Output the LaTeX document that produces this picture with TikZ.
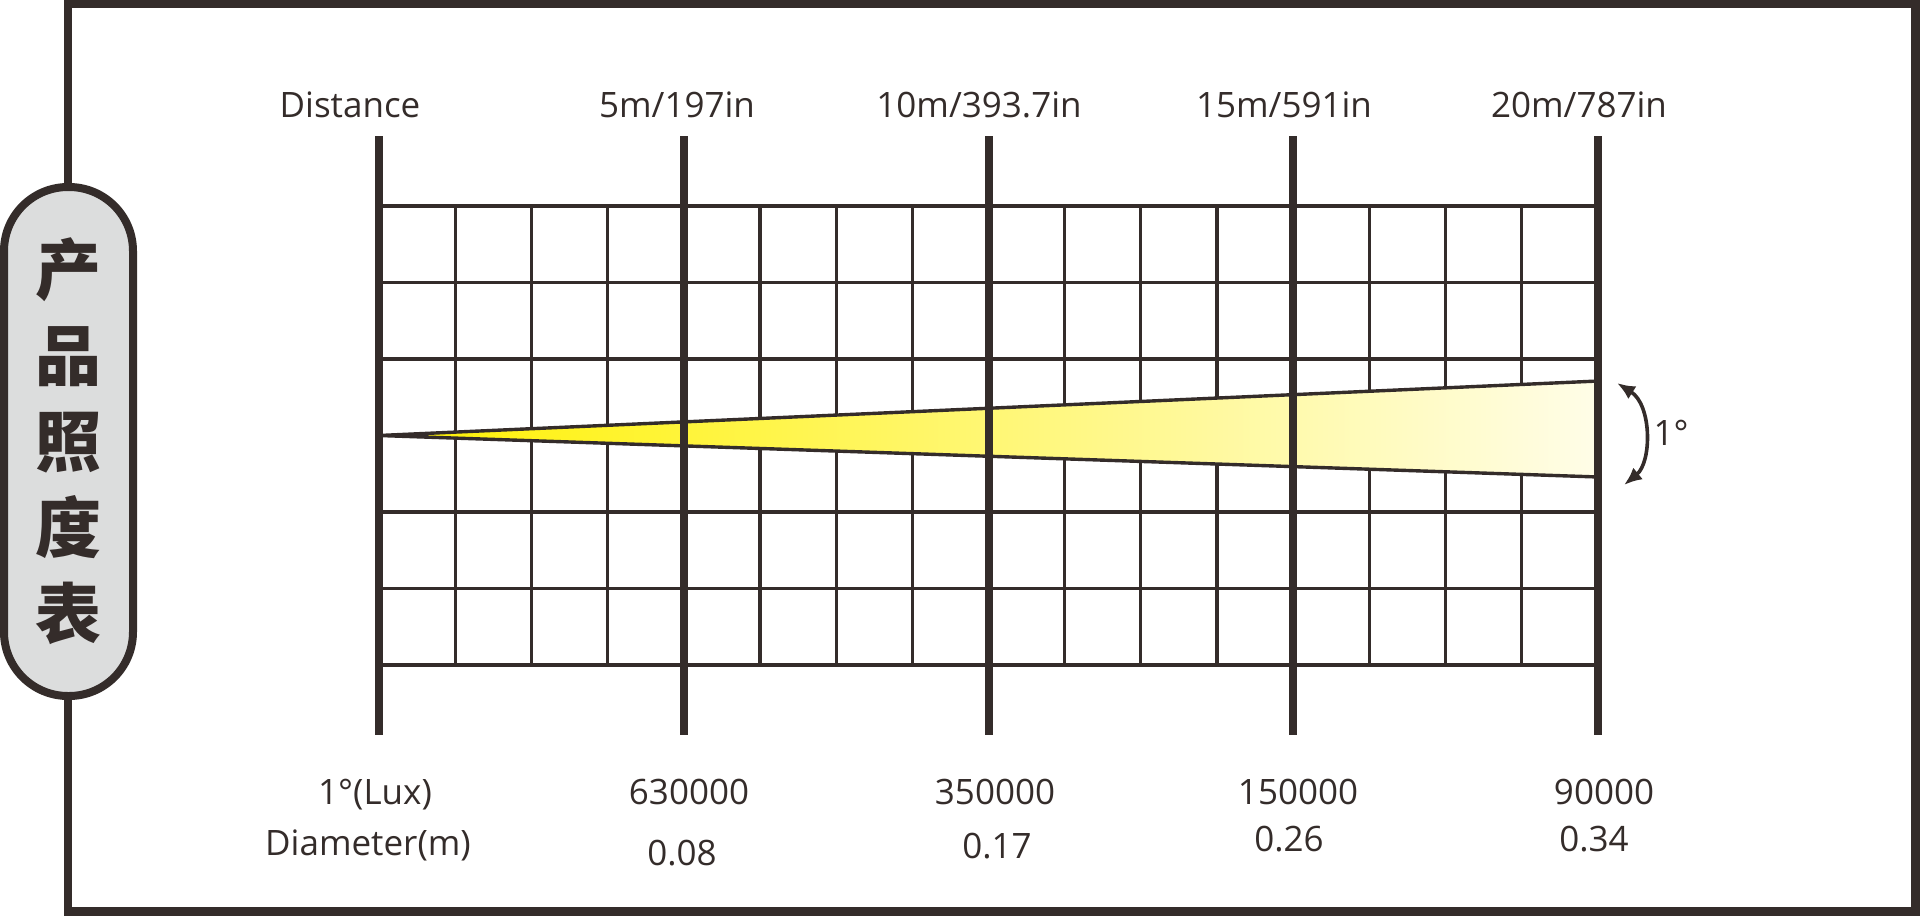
\documentclass[tikz,border=0pt]{standalone}
\usepackage{fontspec}
\setmainfont{Open Sans}
\newfontfamily\cjk{Noto Sans CJK SC}
\usetikzlibrary{arrows.meta,positioning}
\definecolor{ink}{RGB}{52,44,42}
\definecolor{pillgray}{RGB}{220,221,221}
\definecolor{beamyellow}{RGB}{255,241,0}
\definecolor{beamcream}{RGB}{255,253,232}

\begin{document}
\begin{tikzpicture}[x=0.5pt,y=-0.5pt,>=Latex,
  major/.style={ink,line width=4pt},
  minor/.style={ink,line width=1.6pt},
  lbl/.style={font=\fontsize{17.5}{21}\selectfont,text=ink,inner sep=0pt,anchor=base}]
\useasboundingbox (0,0) rectangle (1920,916);
\draw[ink,line width=4.25pt] (68,4) rectangle (1915.5,911.5);
\node[draw=ink,fill=pillgray,line width=4pt,rounded corners=32pt,minimum width=64.5pt,minimum height=254.5pt,inner sep=0pt,align=center,text=ink,font=\cjk\bfseries\fontsize{33}{43}\selectfont] (title) at (68.5,441.5) {产\\品\\照\\度\\表};

\foreach \k in {0,...,6}
  \draw[minor] (379,{206+76.5*\k}) -- (1598.5,{206+76.5*\k});
\foreach \j in {0,...,16}
  \draw[minor] ({379+76.1875*\j},206) -- ({379+76.1875*\j},665);

\coordinate (apex) at (379,435.5);
\coordinate (beamtop) at (1598.5,381);
\coordinate (beambot) at (1598.5,477);
\shade[left color=beamyellow,right color=beamcream] (apex) -- (beamtop) -- (beambot) -- cycle;
\draw[ink,line width=1.7pt,line join=round] (beamtop) -- (apex) -- (beambot);

\foreach \i in {0,...,4}
  \draw[major] ({379+304.75*\i},136) -- ({379+304.75*\i},735);

\node[lbl] (dist) at (350,117.5) {Distance};
\node[lbl] (d5) at (677,117.5) {5m/197in};
\node[lbl] (d10) at (979,117.5) {10m/393.7in};
\node[lbl] (d15) at (1284,117.5) {15m/591in};
\node[lbl] (d20) at (1579,117.5) {20m/787in};

\node[lbl] (lux) at (375,804) {1°(Lux)};
\node[lbl] (lux5) at (689,804) {630000};
\node[lbl] (lux10) at (995,804) {350000};
\node[lbl] (lux15) at (1298,804) {150000};
\node[lbl] (lux20) at (1604,804) {90000};

\node[lbl] (dia) at (368,855) {Diameter(m)};
\node[lbl] (dia5) at (682,865) {0.08};
\node[lbl] (dia10) at (997,858) {0.17};
\node[lbl] (dia15) at (1289,851) {0.26};
\node[lbl] (dia20) at (1594,851) {0.34};

\coordinate (arcA) at (1617,383);
\coordinate (arcB) at (1624,485);
\draw[ink,line width=1.8pt,<->,>={Latex[length=9pt,width=7.5pt]}] (arcA) .. controls (1652,405) and (1652,462) .. (arcB);
\node[lbl,anchor=center] (deg) at (1671,433) {1°};
\end{tikzpicture}
\end{document}
